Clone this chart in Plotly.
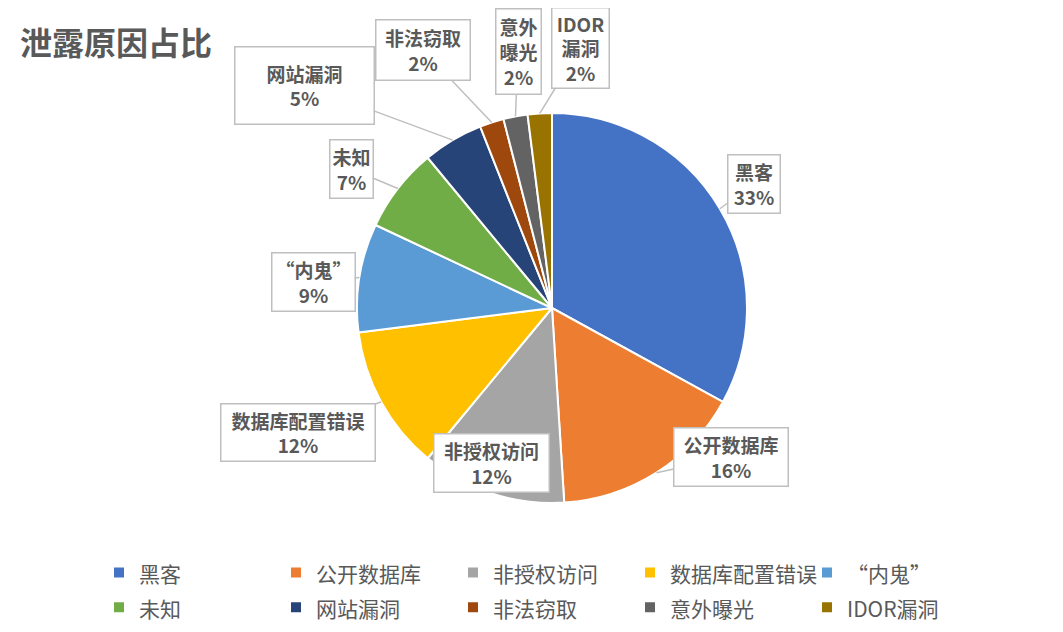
import math
from plotly import graph_objs as go

# page body has an 8px margin, so the figure is drawn 16px smaller
OFF = 8
W, H = 1063 - 2 * OFF, 632 - 2 * OFF

labels = ["黑客", "公开数据库", "非授权访问", "数据库配置错误", "“内鬼”",
          "未知", "网站漏洞", "非法窃取", "意外曝光", "IDOR漏洞"]
values = [33, 16, 12, 12, 9, 7, 5, 2, 2, 2]
colors = ["#4472C4", "#ED7D31", "#A5A5A5", "#FFC000", "#5B9BD5",
          "#70AD47", "#264478", "#9E480E", "#636363", "#997300"]
callout_names = ["黑客", "公开数据库", "非授权访问", "数据库配置错误", "“内鬼”",
                 "未知", "网站漏洞", "非法窃取", "意外<br>曝光", "IDOR<br>漏洞"]

# callout boxes: centre and size, in screen pixels
box_pos = [(754, 184), (731, 457), (445, 499), (298, 432), (313, 282),
           (351, 169), (304, 85), (423, 50), (518, 52), (580, 48)]
box_size = [(52, 58), (114, 58), (115, 58), (154, 57), (83, 58),
            (43, 58), (139, 77), (94, 60), (45, 85), (57, 80)]

cx, cy, R = 552, 308, 195
font = "Noto Sans CJK SC, Microsoft YaHei, sans-serif"
grey = "#595959"


def px_x(x):
    return (x - OFF) / W


def px_y(y):
    return 1 - (y - OFF) / H


fig = go.Figure(go.Pie(
    # legend font is set larger to get Excel's row spacing, text shown at 21px
    labels=['<span style="font-size:21px">%s</span>' % s for s in labels],
    values=values,
    sort=False,
    direction="clockwise",
    rotation=0,
    textinfo="none",
    customdata=labels,
    hovertemplate="%{customdata}: %{percent}<extra></extra>",
    marker=dict(colors=colors, line=dict(color="white", width=2)),
    domain=dict(x=[px_x(cx - R - 60), px_x(cx + R + 60)],
                y=[px_y(cy + R), px_y(cy - R)]),
))

total = sum(values)
cum = 0
annotations = []
for name, v, (bx, by), (bw, bh) in zip(callout_names, values, box_pos, box_size):
    theta = 2 * math.pi * (cum + v / 2) / total
    cum += v
    px = cx + R * math.sin(theta)
    py = cy - R * math.cos(theta)
    inside = abs(px - bx) < bw / 2 and abs(py - by) < bh / 2
    pct = round(100 * v / total)
    annotations.append(dict(
        x=px_x(px), y=px_y(py), xref="paper", yref="paper",
        ax=bx - px, ay=by - py, axref="pixel", ayref="pixel",
        text="<b>%s<br>%d%%</b>" % (name, pct),
        showarrow=not inside, arrowhead=0, arrowwidth=1.5,
        arrowcolor="#BFBFBF", standoff=0,
        font=dict(family=font, size=19, color=grey),
        width=bw - 3, height=bh - 3, borderpad=1,
        bordercolor="#BFBFBF", borderwidth=1.5, bgcolor="white",
        align="center", valign="middle",
    ))

annotations.append(dict(
    x=px_x(18), y=px_y(41), xref="paper", yref="paper",
    xanchor="left", yanchor="middle", showarrow=False,
    text="<b>泄露原因占比</b>",
    font=dict(family=font, size=32, color=grey),
))

fig.update_layout(
    width=W, height=H,
    margin=dict(l=0, r=0, t=0, b=0, autoexpand=False),
    paper_bgcolor="white",
    plot_bgcolor="white",
    annotations=annotations,
    showlegend=True,
    legend=dict(
        orientation="h",
        x=px_x(99), y=px_y(550), xanchor="left", yanchor="top",
        entrywidth=132, entrywidthmode="pixels",
        font=dict(family=font, size=24.5, color=grey),
        traceorder="normal",
    ),
)

fig.write_html("out.html")
